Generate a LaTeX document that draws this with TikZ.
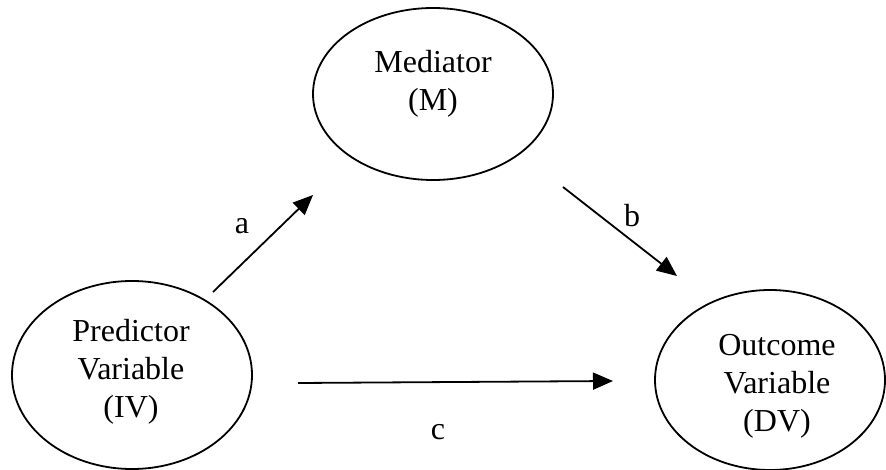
\documentclass[tikz,border=0pt]{standalone}
\usepackage{fontspec}
\setmainfont{Liberation Serif}
\usetikzlibrary{shapes.geometric, arrows.meta, positioning}

\begin{document}
\begin{tikzpicture}[
    x=1pt, y=-1pt,
    var/.style={ellipse, draw, line width=1.8pt, inner sep=0pt},
    txt/.style={align=center, font=\fontsize{32}{38}\selectfont},
    every edge/.style={draw, line width=1.8pt, -{Triangle[length=20pt,width=17pt]}}
]
\useasboundingbox (0,0) rectangle (886,470);
% Variables
\node[var, minimum width=240pt, minimum height=172pt] (M) at (433,94) {};
\node[var, minimum width=240pt, minimum height=188pt] (IV) at (132,375) {};
\node[var, minimum width=230pt, minimum height=180pt] (DV) at (770,380) {};
\node[txt] (Mtext) at (433,84) {Mediator\\(M)};
\node[txt] (IVtext) at (131,372) {Predictor\\Variable\\(IV)};
\node[txt] (DVtext) at (777,386) {Outcome\\Variable\\(DV)};
% Paths
\coordinate (a1) at (213,292);
\coordinate (a2) at (313,195);
\coordinate (b1) at (563,187);
\coordinate (b2) at (677,276);
\coordinate (c1) at (298,383);
\coordinate (c2) at (613,381);
\path (a1) edge (a2);
\path (b1) edge (b2);
\path (c1) edge (c2);
\node[txt] (la) at (242,226) {a};
\node[txt] (lb) at (632,216) {b};
\node[txt] (lc) at (438,432) {c};
\end{tikzpicture}
\end{document}
